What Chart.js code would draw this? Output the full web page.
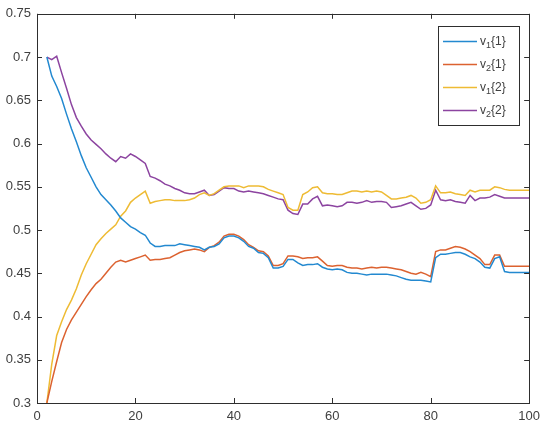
<!DOCTYPE html>
<html>
<head>
<meta charset="utf-8">
<script src="https://cdn.jsdelivr.net/npm/chart.js@4.4.1/dist/chart.umd.min.js"></script>
<style>
  html, body { margin: 0; padding: 0; background: #fff; }
  #wrap { position: relative; width: 546px; height: 431px; }
</style>
</head>
<body>
<div id="wrap"><canvas id="iterChart"></canvas></div>
<script>
// ─── Data ────────────────────────────────────────────────
const iterations = [
  2, 3, 4, 5, 6, 7, 8, 9, 10, 11,
  12, 13, 14, 15, 16, 17, 18, 19, 20, 21,
  22, 23, 24, 25, 26, 27, 28, 29, 30, 31,
  32, 33, 34, 35, 36, 37, 38, 39, 40, 41,
  42, 43, 44, 45, 46, 47, 48, 49, 50, 51,
  52, 53, 54, 55, 56, 57, 58, 59, 60, 61,
  62, 63, 64, 65, 66, 67, 68, 69, 70, 71,
  72, 73, 74, 75, 76, 77, 78, 79, 80, 81,
  82, 83, 84, 85, 86, 87, 88, 89, 90, 91,
  92, 93, 94, 95, 96, 97, 98, 99, 100,
];

const v1_1 = [
  0.700, 0.678, 0.666, 0.652, 0.634, 0.617, 0.602, 0.586, 0.572, 0.561,
  0.550, 0.541, 0.535, 0.529, 0.522, 0.514, 0.509, 0.504, 0.501, 0.497,
  0.494, 0.485, 0.481, 0.481, 0.482, 0.482, 0.482, 0.484, 0.483, 0.482,
  0.481, 0.480, 0.477, 0.480, 0.481, 0.484, 0.491, 0.493, 0.493, 0.491,
  0.487, 0.481, 0.479, 0.474, 0.473, 0.468, 0.456, 0.456, 0.458, 0.466,
  0.466, 0.462, 0.459, 0.460, 0.460, 0.461, 0.457, 0.455, 0.454, 0.455,
  0.454, 0.451, 0.450, 0.450, 0.449, 0.448, 0.449, 0.449, 0.449, 0.449,
  0.448, 0.447, 0.445, 0.443, 0.442, 0.442, 0.442, 0.441, 0.440, 0.468,
  0.472, 0.472, 0.473, 0.474, 0.474, 0.472, 0.469, 0.467, 0.463, 0.457,
  0.456, 0.467, 0.469, 0.452, 0.451, 0.451, 0.451, 0.451, 0.451,
];

const v2_1 = [
  0.300, 0.325, 0.348, 0.370, 0.385, 0.396, 0.405, 0.414, 0.423, 0.431,
  0.438, 0.443, 0.450, 0.457, 0.463, 0.465, 0.463, 0.465, 0.467, 0.469,
  0.471, 0.465, 0.466, 0.466, 0.467, 0.468, 0.471, 0.474, 0.476, 0.477,
  0.478, 0.477, 0.475, 0.480, 0.482, 0.486, 0.493, 0.495, 0.495, 0.493,
  0.489, 0.483, 0.480, 0.476, 0.475, 0.470, 0.459, 0.459, 0.461, 0.470,
  0.470, 0.469, 0.467, 0.468, 0.468, 0.469, 0.464, 0.459, 0.458, 0.459,
  0.459, 0.457, 0.456, 0.456, 0.455, 0.456, 0.457, 0.456, 0.457, 0.457,
  0.456, 0.455, 0.454, 0.452, 0.450, 0.449, 0.451, 0.449, 0.446, 0.475,
  0.477, 0.477, 0.479, 0.481, 0.480, 0.478, 0.475, 0.471, 0.467, 0.460,
  0.460, 0.471, 0.471, 0.458, 0.458, 0.458, 0.458, 0.458, 0.458,
];

const v1_2 = [
  0.300, 0.345, 0.378, 0.394, 0.408, 0.419, 0.432, 0.448, 0.461, 0.472,
  0.483, 0.490, 0.496, 0.501, 0.506, 0.516, 0.522, 0.532, 0.537, 0.541,
  0.545, 0.531, 0.533, 0.534, 0.535, 0.535, 0.534, 0.534, 0.534, 0.535,
  0.537, 0.541, 0.543, 0.540, 0.542, 0.546, 0.550, 0.551, 0.551, 0.551,
  0.549, 0.551, 0.551, 0.551, 0.550, 0.547, 0.545, 0.543, 0.541, 0.526,
  0.523, 0.523, 0.541, 0.544, 0.549, 0.550, 0.543, 0.542, 0.542, 0.541,
  0.541, 0.543, 0.545, 0.545, 0.544, 0.545, 0.544, 0.545, 0.544, 0.540,
  0.536, 0.536, 0.537, 0.538, 0.540, 0.537, 0.531, 0.532, 0.535, 0.551,
  0.543, 0.543, 0.544, 0.542, 0.541, 0.540, 0.546, 0.544, 0.546, 0.546,
  0.546, 0.550, 0.549, 0.547, 0.546, 0.546, 0.546, 0.546, 0.546,
];

const v2_2 = [
  0.700, 0.697, 0.701, 0.682, 0.664, 0.645, 0.630, 0.620, 0.611, 0.604,
  0.599, 0.594, 0.588, 0.583, 0.579, 0.585, 0.583, 0.588, 0.585, 0.581,
  0.577, 0.562, 0.560, 0.557, 0.553, 0.551, 0.548, 0.546, 0.543, 0.542,
  0.542, 0.544, 0.546, 0.540, 0.541, 0.545, 0.549, 0.548, 0.548, 0.545,
  0.544, 0.545, 0.544, 0.543, 0.542, 0.540, 0.538, 0.536, 0.535, 0.523,
  0.519, 0.518, 0.530, 0.530, 0.536, 0.539, 0.528, 0.529, 0.528, 0.527,
  0.528, 0.532, 0.532, 0.531, 0.532, 0.534, 0.532, 0.533, 0.533, 0.532,
  0.526, 0.527, 0.528, 0.530, 0.532, 0.528, 0.524, 0.525, 0.529, 0.546,
  0.535, 0.534, 0.535, 0.533, 0.532, 0.531, 0.540, 0.534, 0.537, 0.537,
  0.538, 0.541, 0.539, 0.537, 0.537, 0.537, 0.537, 0.537, 0.537,
];

const seriesLabels = ['v_1{1}', 'v_2{1}', 'v_1{2}', 'v_2{2}'];
const seriesColors = ['#2389d0', '#dc6230', '#eebb34', '#8c44a0'];
const xTicks = [0, 20, 40, 60, 80, 100];
const yTicks = [0.3, 0.35, 0.4, 0.45, 0.5, 0.55, 0.6, 0.65, 0.7, 0.75];

const AXIS_COLOR = '#2e2e2e';
const TEXT_COLOR = '#404040';
const FONT = "'Liberation Sans', Arial, Helvetica, sans-serif";

// ─── Box with inward ticks on all four sides ─────────────
const boxAxesPlugin = {
  id: 'boxAxes',
  afterDatasetsDraw(chart) {
    const { ctx, chartArea: a, scales: { x, y } } = chart;
    const len = 5;
    ctx.save();
    ctx.strokeStyle = AXIS_COLOR;
    ctx.lineWidth = 1;
    ctx.beginPath();
    xTicks.forEach(v => {
      const px = Math.round(x.getPixelForValue(v)) + 0.5;
      ctx.moveTo(px, a.bottom); ctx.lineTo(px, a.bottom - len);
      ctx.moveTo(px, a.top);    ctx.lineTo(px, a.top + len);
    });
    yTicks.forEach(v => {
      const py = Math.round(y.getPixelForValue(v)) + 0.5;
      ctx.moveTo(a.left, py);  ctx.lineTo(a.left + len, py);
      ctx.moveTo(a.right, py); ctx.lineTo(a.right - len, py);
    });
    ctx.stroke();
    ctx.strokeRect(Math.round(a.left) + 0.5, Math.round(a.top) + 0.5,
                   Math.round(a.right - a.left), Math.round(a.bottom - a.top));
    ctx.restore();
  },
};

// ─── Legend inside the axes (north-east) ─────────────────
function drawLabel(ctx, text, x, y) {
  // 'v_1{1}' -> v + subscript 1 + {1}
  const m = text.match(/^(.*?)_(.)(.*)$/);
  const base = m ? m[1] : text;
  ctx.font = `12px ${FONT}`;
  ctx.fillText(base, x, y);
  if (!m) return;
  let cx = x + ctx.measureText(base).width;
  ctx.font = `9px ${FONT}`;
  ctx.fillText(m[2], cx, y + 4);
  cx += ctx.measureText(m[2]).width;
  ctx.font = `12px ${FONT}`;
  ctx.fillText(m[3], cx, y);
}

const insideLegendPlugin = {
  id: 'insideLegend',
  afterDraw(chart) {
    const { ctx } = chart;
    const bx = 438.5, by = 26.5, bw = 81, bh = 99;
    ctx.save();
    ctx.fillStyle = '#fff';
    ctx.fillRect(bx, by, bw, bh);
    ctx.strokeStyle = AXIS_COLOR;
    ctx.lineWidth = 1;
    ctx.strokeRect(bx, by, bw, bh);
    ctx.textBaseline = 'middle';
    chart.data.datasets.forEach((ds, i) => {
      const rowY = 41.5 + i * 23;
      ctx.strokeStyle = ds.borderColor;
      ctx.lineWidth = 1.5;
      ctx.beginPath();
      ctx.moveTo(443, rowY);
      ctx.lineTo(477, rowY);
      ctx.stroke();
      ctx.fillStyle = TEXT_COLOR;
      drawLabel(ctx, ds.label, 480, rowY);
    });
    ctx.restore();
  },
};

function renderChart() {
  const el = document.getElementById('iterChart');
  const allSeries = [v1_1, v2_1, v1_2, v2_2];

  new Chart(el, {
    type: 'line',
    data: {
      datasets: allSeries.map((vals, i) => ({
        label: seriesLabels[i],
        data: iterations.map((it, j) => ({ x: it, y: vals[j] })),
        borderColor: seriesColors[i],
        borderWidth: 1.5,
        pointRadius: 0,
        tension: 0,
        fill: false,
      })),
    },
    options: {
      responsive: true,
      maintainAspectRatio: false,
      animation: false,
      devicePixelRatio: 1,
      layout: { padding: { top: 12, right: 16, left: 0, bottom: 0 } },
      plugins: {
        legend: { display: false },
        tooltip: { enabled: false },
      },
      scales: {
        x: {
          type: 'linear',
          min: 0,
          max: 100,
          afterBuildTicks: s => { s.ticks = xTicks.map(v => ({ value: v })); },
          afterFit: s => { s.height = 28; },
          grid: { display: false, drawTicks: false },
          border: { display: false },
          ticks: { color: TEXT_COLOR, font: { family: FONT, size: 13 }, padding: 6, maxRotation: 0 },
        },
        y: {
          type: 'linear',
          min: 0.3,
          max: 0.75,
          afterBuildTicks: s => { s.ticks = yTicks.map(v => ({ value: v })); },
          afterFit: s => { s.width = 37; },
          grid: { display: false, drawTicks: false },
          border: { display: false },
          ticks: {
            color: TEXT_COLOR,
            font: { family: FONT, size: 13 },
            padding: 6,
            callback: v => String(parseFloat(v.toFixed(2))),
          },
        },
      },
    },
    plugins: [boxAxesPlugin, insideLegendPlugin],
  });
}

document.addEventListener('DOMContentLoaded', renderChart);
</script>
</body>
</html>
